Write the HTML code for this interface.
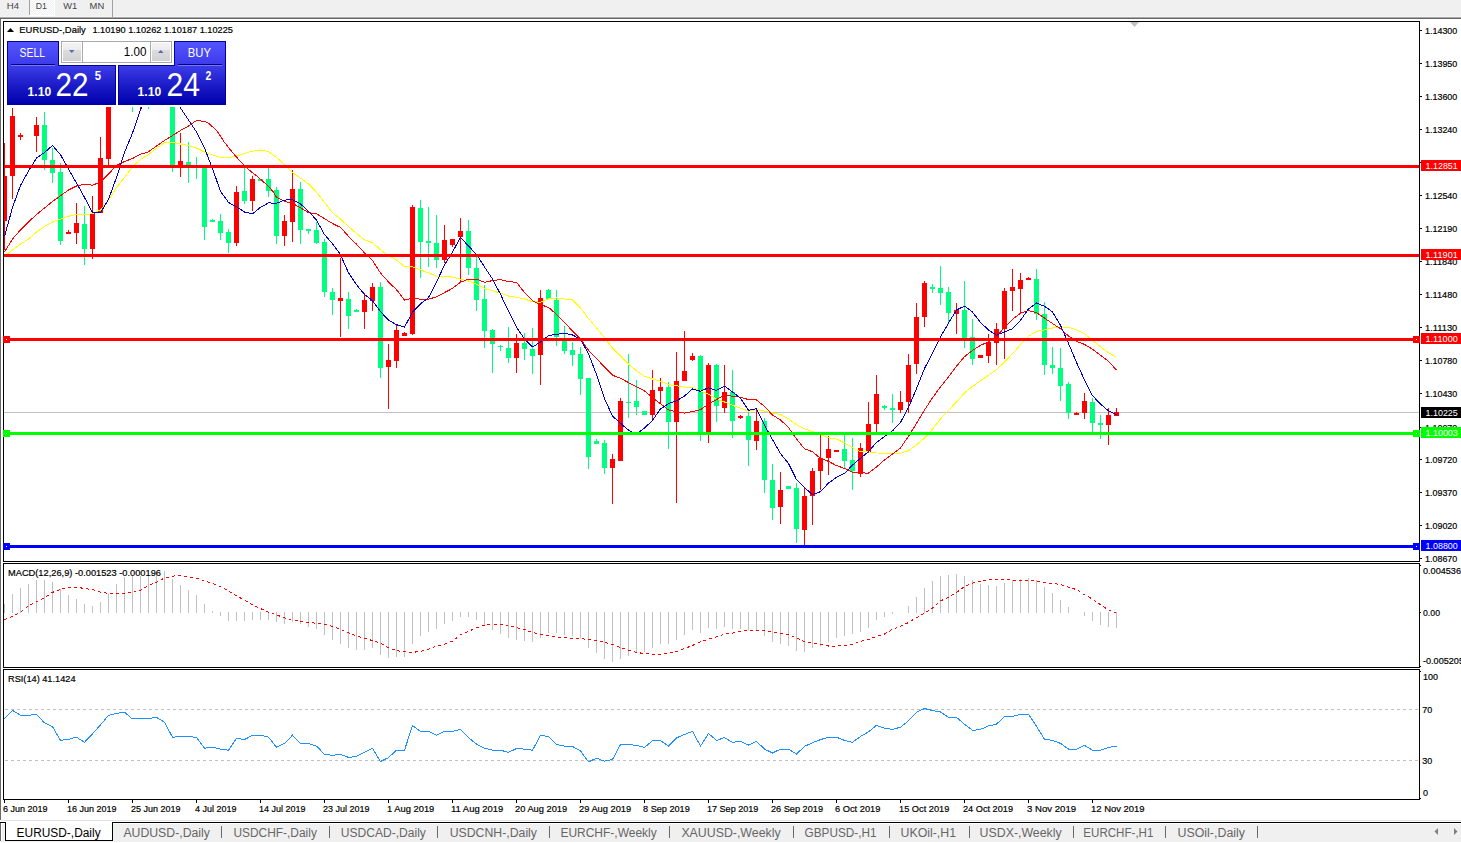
<!DOCTYPE html><html><head><meta charset="utf-8"><title>EURUSD-,Daily</title><style>html,body{margin:0;padding:0;background:#fff;width:1461px;height:843px;overflow:hidden;position:relative}svg text{font-family:"Liberation Sans",sans-serif;white-space:pre}</style></head><body><svg width="1461" height="843" viewBox="0 0 1461 843" font-family="Liberation Sans" style="position:absolute;left:0;top:0">
<defs><clipPath id="cm"><rect x="4" y="22" width="1415" height="539"/></clipPath><clipPath id="cmacd"><rect x="4" y="564" width="1415" height="103"/></clipPath><clipPath id="crsi"><rect x="4" y="670" width="1415" height="129"/></clipPath><linearGradient id="gSell" x1="0" y1="0" x2="0" y2="1"><stop offset="0" stop-color="#5454ff"/><stop offset="1" stop-color="#3a3aea"/></linearGradient><linearGradient id="gPrice" x1="0" y1="0" x2="0" y2="1"><stop offset="0" stop-color="#3c3ce8"/><stop offset="0.5" stop-color="#1c1cc8"/><stop offset="1" stop-color="#0000ae"/></linearGradient><linearGradient id="gBtn" x1="0" y1="0" x2="0" y2="1"><stop offset="0" stop-color="#f3f3f3"/><stop offset="0.36" stop-color="#ececec"/><stop offset="0.4" stop-color="#dcdcdc"/><stop offset="1" stop-color="#d2d2d2"/></linearGradient><pattern id="dith" width="2" height="2" patternUnits="userSpaceOnUse"><rect width="2" height="2" fill="#f0f0f0"/><rect width="1" height="1" fill="#fff"/><rect x="1" y="1" width="1" height="1" fill="#fff"/></pattern></defs>
<g shape-rendering="crispEdges">
<rect x="0" y="0" width="1461" height="17" fill="#f0f0f0"/>
<rect x="0" y="16" width="1461" height="1" fill="#f5f5f5"/>
<rect x="0" y="17" width="1461" height="1" fill="#a8a8a8"/>
<rect x="0" y="18" width="1461" height="1" fill="#696969"/>
<rect x="30" y="0" width="24" height="15" fill="url(#dith)"/>
<rect x="54" y="0" width="1" height="16" fill="#ffffff"/>
<rect x="29" y="15" width="26" height="1" fill="#ffffff"/>
<rect x="29" y="0" width="1" height="15" fill="#a0a0a0"/>
<rect x="112" y="0" width="1" height="17" fill="#a0a0a0"/>
<rect x="0" y="18" width="1" height="802" fill="#696969"/>
<rect x="3" y="21" width="1417" height="1" fill="#000"/>
<rect x="3" y="561" width="1417" height="1" fill="#000"/>
<rect x="3" y="21" width="1" height="541" fill="#000"/>
<rect x="1419" y="21" width="1" height="541" fill="#000"/>
<rect x="3" y="563" width="1417" height="1" fill="#000"/>
<rect x="3" y="667" width="1417" height="1" fill="#000"/>
<rect x="3" y="563" width="1" height="105" fill="#000"/>
<rect x="1419" y="563" width="1" height="105" fill="#000"/>
<rect x="3" y="669" width="1417" height="1" fill="#000"/>
<rect x="3" y="799" width="1417" height="1" fill="#000"/>
<rect x="3" y="669" width="1" height="131" fill="#000"/>
<rect x="1419" y="669" width="1" height="131" fill="#000"/>
</g>
<g clip-path="url(#cm)" shape-rendering="crispEdges">
<rect x="4" y="412" width="1415" height="1" fill="#c0c0c0"/>
<rect x="4" y="143" width="1" height="107" fill="#ff0000"/>
<rect x="2" y="176" width="5" height="45" fill="#ff0000"/>
<rect x="12" y="108" width="1" height="91" fill="#ff0000"/>
<rect x="10" y="116" width="5" height="60" fill="#ff0000"/>
<rect x="20" y="133" width="1" height="7" fill="#ff0000"/>
<rect x="18" y="135" width="5" height="2" fill="#ff0000"/>
<rect x="36" y="117" width="1" height="35" fill="#ff0000"/>
<rect x="34" y="125" width="5" height="11" fill="#ff0000"/>
<rect x="44" y="112" width="1" height="58" fill="#00ff7f"/>
<rect x="42" y="125" width="5" height="35" fill="#00ff7f"/>
<rect x="52" y="148" width="1" height="35" fill="#00ff7f"/>
<rect x="50" y="160" width="5" height="13" fill="#00ff7f"/>
<rect x="60" y="163" width="1" height="82" fill="#00ff7f"/>
<rect x="58" y="172" width="5" height="69" fill="#00ff7f"/>
<rect x="68" y="230" width="1" height="4" fill="#ff0000"/>
<rect x="66" y="232" width="5" height="2" fill="#ff0000"/>
<rect x="76" y="203" width="1" height="41" fill="#ff0000"/>
<rect x="74" y="223" width="5" height="10" fill="#ff0000"/>
<rect x="84" y="206" width="1" height="59" fill="#00ff7f"/>
<rect x="82" y="224" width="5" height="25" fill="#00ff7f"/>
<rect x="92" y="196" width="1" height="63" fill="#ff0000"/>
<rect x="90" y="213" width="5" height="36" fill="#ff0000"/>
<rect x="100" y="137" width="1" height="76" fill="#ff0000"/>
<rect x="98" y="158" width="5" height="55" fill="#ff0000"/>
<rect x="108" y="60" width="1" height="108" fill="#ff0000"/>
<rect x="106" y="80" width="5" height="79" fill="#ff0000"/>
<rect x="172" y="80" width="1" height="92" fill="#00ff7f"/>
<rect x="170" y="90" width="5" height="75" fill="#00ff7f"/>
<rect x="180" y="133" width="1" height="44" fill="#ff0000"/>
<rect x="178" y="161" width="5" height="4" fill="#ff0000"/>
<rect x="188" y="142" width="1" height="41" fill="#00ff7f"/>
<rect x="186" y="162" width="5" height="3" fill="#00ff7f"/>
<rect x="196" y="157" width="1" height="22" fill="#00ff7f"/>
<rect x="194" y="165" width="5" height="1" fill="#00ff7f"/>
<rect x="204" y="167" width="1" height="73" fill="#00ff7f"/>
<rect x="202" y="167" width="5" height="60" fill="#00ff7f"/>
<rect x="212" y="219" width="1" height="3" fill="#00ff7f"/>
<rect x="210" y="220" width="5" height="2" fill="#00ff7f"/>
<rect x="220" y="214" width="1" height="26" fill="#00ff7f"/>
<rect x="218" y="221" width="5" height="12" fill="#00ff7f"/>
<rect x="228" y="229" width="1" height="24" fill="#00ff7f"/>
<rect x="226" y="232" width="5" height="11" fill="#00ff7f"/>
<rect x="236" y="186" width="1" height="60" fill="#ff0000"/>
<rect x="234" y="192" width="5" height="51" fill="#ff0000"/>
<rect x="244" y="165" width="1" height="39" fill="#00ff7f"/>
<rect x="242" y="191" width="5" height="10" fill="#00ff7f"/>
<rect x="252" y="176" width="1" height="35" fill="#ff0000"/>
<rect x="250" y="179" width="5" height="22" fill="#ff0000"/>
<rect x="260" y="179" width="1" height="2" fill="#00ff7f"/>
<rect x="258" y="179" width="5" height="2" fill="#00ff7f"/>
<rect x="268" y="167" width="1" height="30" fill="#00ff7f"/>
<rect x="266" y="179" width="5" height="12" fill="#00ff7f"/>
<rect x="276" y="187" width="1" height="57" fill="#00ff7f"/>
<rect x="274" y="190" width="5" height="46" fill="#00ff7f"/>
<rect x="284" y="215" width="1" height="31" fill="#ff0000"/>
<rect x="282" y="221" width="5" height="15" fill="#ff0000"/>
<rect x="292" y="170" width="1" height="72" fill="#ff0000"/>
<rect x="290" y="189" width="5" height="33" fill="#ff0000"/>
<rect x="300" y="182" width="1" height="62" fill="#00ff7f"/>
<rect x="298" y="189" width="5" height="41" fill="#00ff7f"/>
<rect x="308" y="229" width="1" height="5" fill="#00ff7f"/>
<rect x="306" y="229" width="5" height="2" fill="#00ff7f"/>
<rect x="316" y="222" width="1" height="22" fill="#00ff7f"/>
<rect x="314" y="230" width="5" height="13" fill="#00ff7f"/>
<rect x="324" y="239" width="1" height="58" fill="#00ff7f"/>
<rect x="322" y="242" width="5" height="50" fill="#00ff7f"/>
<rect x="332" y="288" width="1" height="27" fill="#00ff7f"/>
<rect x="330" y="292" width="5" height="8" fill="#00ff7f"/>
<rect x="340" y="258" width="1" height="79" fill="#ff0000"/>
<rect x="338" y="298" width="5" height="3" fill="#ff0000"/>
<rect x="348" y="292" width="1" height="37" fill="#00ff7f"/>
<rect x="346" y="299" width="5" height="17" fill="#00ff7f"/>
<rect x="356" y="309" width="1" height="3" fill="#00ff7f"/>
<rect x="354" y="310" width="5" height="2" fill="#00ff7f"/>
<rect x="364" y="293" width="1" height="36" fill="#ff0000"/>
<rect x="362" y="300" width="5" height="12" fill="#ff0000"/>
<rect x="372" y="283" width="1" height="28" fill="#ff0000"/>
<rect x="370" y="287" width="5" height="14" fill="#ff0000"/>
<rect x="380" y="282" width="1" height="96" fill="#00ff7f"/>
<rect x="378" y="287" width="5" height="81" fill="#00ff7f"/>
<rect x="388" y="344" width="1" height="65" fill="#ff0000"/>
<rect x="386" y="360" width="5" height="7" fill="#ff0000"/>
<rect x="396" y="325" width="1" height="43" fill="#ff0000"/>
<rect x="394" y="330" width="5" height="31" fill="#ff0000"/>
<rect x="404" y="332" width="1" height="4" fill="#ff0000"/>
<rect x="402" y="333" width="5" height="3" fill="#ff0000"/>
<rect x="412" y="205" width="1" height="130" fill="#ff0000"/>
<rect x="410" y="207" width="5" height="127" fill="#ff0000"/>
<rect x="420" y="200" width="1" height="78" fill="#00ff7f"/>
<rect x="418" y="208" width="5" height="34" fill="#00ff7f"/>
<rect x="428" y="207" width="1" height="60" fill="#00ff7f"/>
<rect x="426" y="241" width="5" height="2" fill="#00ff7f"/>
<rect x="436" y="215" width="1" height="53" fill="#00ff7f"/>
<rect x="434" y="243" width="5" height="17" fill="#00ff7f"/>
<rect x="444" y="225" width="1" height="38" fill="#ff0000"/>
<rect x="442" y="240" width="5" height="20" fill="#ff0000"/>
<rect x="452" y="239" width="1" height="8" fill="#ff0000"/>
<rect x="450" y="239" width="5" height="6" fill="#ff0000"/>
<rect x="460" y="218" width="1" height="65" fill="#ff0000"/>
<rect x="458" y="231" width="5" height="6" fill="#ff0000"/>
<rect x="468" y="220" width="1" height="55" fill="#00ff7f"/>
<rect x="466" y="231" width="5" height="37" fill="#00ff7f"/>
<rect x="476" y="255" width="1" height="56" fill="#00ff7f"/>
<rect x="474" y="268" width="5" height="32" fill="#00ff7f"/>
<rect x="484" y="285" width="1" height="63" fill="#00ff7f"/>
<rect x="482" y="299" width="5" height="32" fill="#00ff7f"/>
<rect x="492" y="329" width="1" height="44" fill="#00ff7f"/>
<rect x="490" y="330" width="5" height="14" fill="#00ff7f"/>
<rect x="500" y="345" width="1" height="6" fill="#00ff7f"/>
<rect x="498" y="346" width="5" height="1" fill="#00ff7f"/>
<rect x="508" y="327" width="1" height="36" fill="#00ff7f"/>
<rect x="506" y="348" width="5" height="10" fill="#00ff7f"/>
<rect x="516" y="334" width="1" height="39" fill="#ff0000"/>
<rect x="514" y="343" width="5" height="15" fill="#ff0000"/>
<rect x="524" y="333" width="1" height="27" fill="#00ff7f"/>
<rect x="522" y="343" width="5" height="6" fill="#00ff7f"/>
<rect x="532" y="328" width="1" height="46" fill="#00ff7f"/>
<rect x="530" y="349" width="5" height="7" fill="#00ff7f"/>
<rect x="540" y="290" width="1" height="95" fill="#ff0000"/>
<rect x="538" y="298" width="5" height="57" fill="#ff0000"/>
<rect x="548" y="289" width="1" height="10" fill="#00ff7f"/>
<rect x="546" y="290" width="5" height="9" fill="#00ff7f"/>
<rect x="556" y="290" width="1" height="56" fill="#00ff7f"/>
<rect x="554" y="300" width="5" height="37" fill="#00ff7f"/>
<rect x="564" y="326" width="1" height="28" fill="#00ff7f"/>
<rect x="562" y="340" width="5" height="11" fill="#00ff7f"/>
<rect x="572" y="342" width="1" height="24" fill="#00ff7f"/>
<rect x="570" y="350" width="5" height="5" fill="#00ff7f"/>
<rect x="580" y="347" width="1" height="48" fill="#00ff7f"/>
<rect x="578" y="354" width="5" height="25" fill="#00ff7f"/>
<rect x="588" y="378" width="1" height="91" fill="#00ff7f"/>
<rect x="586" y="378" width="5" height="79" fill="#00ff7f"/>
<rect x="596" y="439" width="1" height="5" fill="#00ff7f"/>
<rect x="594" y="441" width="5" height="3" fill="#00ff7f"/>
<rect x="604" y="440" width="1" height="34" fill="#00ff7f"/>
<rect x="602" y="443" width="5" height="25" fill="#00ff7f"/>
<rect x="612" y="454" width="1" height="50" fill="#ff0000"/>
<rect x="610" y="459" width="5" height="9" fill="#ff0000"/>
<rect x="620" y="398" width="1" height="63" fill="#ff0000"/>
<rect x="618" y="401" width="5" height="60" fill="#ff0000"/>
<rect x="628" y="354" width="1" height="64" fill="#00ff7f"/>
<rect x="626" y="402" width="5" height="1" fill="#00ff7f"/>
<rect x="636" y="380" width="1" height="35" fill="#00ff7f"/>
<rect x="634" y="401" width="5" height="6" fill="#00ff7f"/>
<rect x="644" y="411" width="1" height="4" fill="#00ff7f"/>
<rect x="642" y="411" width="5" height="4" fill="#00ff7f"/>
<rect x="652" y="370" width="1" height="49" fill="#ff0000"/>
<rect x="650" y="390" width="5" height="25" fill="#ff0000"/>
<rect x="660" y="378" width="1" height="26" fill="#ff0000"/>
<rect x="658" y="387" width="5" height="4" fill="#ff0000"/>
<rect x="668" y="382" width="1" height="67" fill="#00ff7f"/>
<rect x="666" y="387" width="5" height="35" fill="#00ff7f"/>
<rect x="676" y="352" width="1" height="151" fill="#ff0000"/>
<rect x="674" y="381" width="5" height="41" fill="#ff0000"/>
<rect x="684" y="331" width="1" height="50" fill="#ff0000"/>
<rect x="682" y="371" width="5" height="10" fill="#ff0000"/>
<rect x="692" y="353" width="1" height="8" fill="#ff0000"/>
<rect x="690" y="356" width="5" height="4" fill="#ff0000"/>
<rect x="700" y="355" width="1" height="86" fill="#00ff7f"/>
<rect x="698" y="356" width="5" height="76" fill="#00ff7f"/>
<rect x="708" y="363" width="1" height="80" fill="#ff0000"/>
<rect x="706" y="365" width="5" height="67" fill="#ff0000"/>
<rect x="716" y="364" width="1" height="58" fill="#00ff7f"/>
<rect x="714" y="365" width="5" height="41" fill="#00ff7f"/>
<rect x="724" y="365" width="1" height="48" fill="#ff0000"/>
<rect x="722" y="392" width="5" height="16" fill="#ff0000"/>
<rect x="732" y="370" width="1" height="68" fill="#00ff7f"/>
<rect x="730" y="392" width="5" height="29" fill="#00ff7f"/>
<rect x="740" y="415" width="1" height="4" fill="#ff0000"/>
<rect x="738" y="416" width="5" height="2" fill="#ff0000"/>
<rect x="748" y="412" width="1" height="54" fill="#00ff7f"/>
<rect x="746" y="416" width="5" height="24" fill="#00ff7f"/>
<rect x="756" y="410" width="1" height="40" fill="#ff0000"/>
<rect x="754" y="421" width="5" height="20" fill="#ff0000"/>
<rect x="764" y="418" width="1" height="75" fill="#00ff7f"/>
<rect x="762" y="421" width="5" height="59" fill="#00ff7f"/>
<rect x="772" y="464" width="1" height="56" fill="#00ff7f"/>
<rect x="770" y="480" width="5" height="28" fill="#00ff7f"/>
<rect x="780" y="472" width="1" height="52" fill="#ff0000"/>
<rect x="778" y="490" width="5" height="17" fill="#ff0000"/>
<rect x="788" y="486" width="1" height="3" fill="#00ff7f"/>
<rect x="786" y="486" width="5" height="3" fill="#00ff7f"/>
<rect x="796" y="483" width="1" height="60" fill="#00ff7f"/>
<rect x="794" y="488" width="5" height="41" fill="#00ff7f"/>
<rect x="804" y="488" width="1" height="57" fill="#ff0000"/>
<rect x="802" y="496" width="5" height="34" fill="#ff0000"/>
<rect x="812" y="468" width="1" height="57" fill="#ff0000"/>
<rect x="810" y="471" width="5" height="25" fill="#ff0000"/>
<rect x="820" y="434" width="1" height="56" fill="#ff0000"/>
<rect x="818" y="458" width="5" height="13" fill="#ff0000"/>
<rect x="828" y="436" width="1" height="39" fill="#ff0000"/>
<rect x="826" y="449" width="5" height="9" fill="#ff0000"/>
<rect x="836" y="450" width="1" height="2" fill="#ff0000"/>
<rect x="834" y="450" width="5" height="2" fill="#ff0000"/>
<rect x="844" y="434" width="1" height="35" fill="#00ff7f"/>
<rect x="842" y="449" width="5" height="12" fill="#00ff7f"/>
<rect x="852" y="438" width="1" height="52" fill="#00ff7f"/>
<rect x="850" y="460" width="5" height="11" fill="#00ff7f"/>
<rect x="860" y="443" width="1" height="34" fill="#ff0000"/>
<rect x="858" y="448" width="5" height="26" fill="#ff0000"/>
<rect x="868" y="402" width="1" height="51" fill="#ff0000"/>
<rect x="866" y="424" width="5" height="28" fill="#ff0000"/>
<rect x="876" y="375" width="1" height="57" fill="#ff0000"/>
<rect x="874" y="394" width="5" height="30" fill="#ff0000"/>
<rect x="884" y="405" width="1" height="5" fill="#00ff7f"/>
<rect x="882" y="406" width="5" height="2" fill="#00ff7f"/>
<rect x="892" y="394" width="1" height="29" fill="#00ff7f"/>
<rect x="890" y="408" width="5" height="2" fill="#00ff7f"/>
<rect x="900" y="391" width="1" height="22" fill="#ff0000"/>
<rect x="898" y="402" width="5" height="8" fill="#ff0000"/>
<rect x="908" y="354" width="1" height="59" fill="#ff0000"/>
<rect x="906" y="365" width="5" height="37" fill="#ff0000"/>
<rect x="916" y="303" width="1" height="71" fill="#ff0000"/>
<rect x="914" y="317" width="5" height="47" fill="#ff0000"/>
<rect x="924" y="281" width="1" height="46" fill="#ff0000"/>
<rect x="922" y="283" width="5" height="34" fill="#ff0000"/>
<rect x="932" y="284" width="1" height="9" fill="#00ff7f"/>
<rect x="930" y="287" width="5" height="2" fill="#00ff7f"/>
<rect x="940" y="266" width="1" height="39" fill="#00ff7f"/>
<rect x="938" y="288" width="5" height="5" fill="#00ff7f"/>
<rect x="948" y="287" width="1" height="36" fill="#00ff7f"/>
<rect x="946" y="292" width="5" height="21" fill="#00ff7f"/>
<rect x="956" y="303" width="1" height="31" fill="#ff0000"/>
<rect x="954" y="310" width="5" height="4" fill="#ff0000"/>
<rect x="964" y="281" width="1" height="67" fill="#00ff7f"/>
<rect x="962" y="310" width="5" height="28" fill="#00ff7f"/>
<rect x="972" y="319" width="1" height="46" fill="#00ff7f"/>
<rect x="970" y="337" width="5" height="22" fill="#00ff7f"/>
<rect x="980" y="355" width="1" height="3" fill="#ff0000"/>
<rect x="978" y="355" width="5" height="3" fill="#ff0000"/>
<rect x="988" y="334" width="1" height="29" fill="#ff0000"/>
<rect x="986" y="342" width="5" height="14" fill="#ff0000"/>
<rect x="996" y="323" width="1" height="42" fill="#ff0000"/>
<rect x="994" y="329" width="5" height="14" fill="#ff0000"/>
<rect x="1004" y="288" width="1" height="71" fill="#ff0000"/>
<rect x="1002" y="291" width="5" height="38" fill="#ff0000"/>
<rect x="1012" y="269" width="1" height="42" fill="#ff0000"/>
<rect x="1010" y="287" width="5" height="4" fill="#ff0000"/>
<rect x="1020" y="273" width="1" height="40" fill="#ff0000"/>
<rect x="1018" y="280" width="5" height="9" fill="#ff0000"/>
<rect x="1028" y="277" width="1" height="3" fill="#ff0000"/>
<rect x="1026" y="278" width="5" height="2" fill="#ff0000"/>
<rect x="1036" y="269" width="1" height="51" fill="#00ff7f"/>
<rect x="1034" y="279" width="5" height="35" fill="#00ff7f"/>
<rect x="1044" y="302" width="1" height="73" fill="#00ff7f"/>
<rect x="1042" y="314" width="5" height="51" fill="#00ff7f"/>
<rect x="1052" y="347" width="1" height="27" fill="#00ff7f"/>
<rect x="1050" y="365" width="5" height="3" fill="#00ff7f"/>
<rect x="1060" y="348" width="1" height="53" fill="#00ff7f"/>
<rect x="1058" y="368" width="5" height="18" fill="#00ff7f"/>
<rect x="1068" y="382" width="1" height="37" fill="#00ff7f"/>
<rect x="1066" y="384" width="5" height="29" fill="#00ff7f"/>
<rect x="1076" y="412" width="1" height="3" fill="#ff0000"/>
<rect x="1074" y="413" width="5" height="2" fill="#ff0000"/>
<rect x="1084" y="393" width="1" height="26" fill="#ff0000"/>
<rect x="1082" y="401" width="5" height="12" fill="#ff0000"/>
<rect x="1092" y="398" width="1" height="34" fill="#00ff7f"/>
<rect x="1090" y="402" width="5" height="21" fill="#00ff7f"/>
<rect x="1100" y="415" width="1" height="24" fill="#00ff7f"/>
<rect x="1098" y="423" width="5" height="2" fill="#00ff7f"/>
<rect x="1108" y="408" width="1" height="37" fill="#ff0000"/>
<rect x="1106" y="415" width="5" height="10" fill="#ff0000"/>
<rect x="1116" y="408" width="1" height="8" fill="#ff0000"/>
<rect x="1114" y="412" width="5" height="4" fill="#ff0000"/>
<rect x="132" y="60" width="1" height="52" fill="#00ff7f"/>
<rect x="140" y="60" width="1" height="48" fill="#ff0000"/>
<rect x="148" y="60" width="1" height="49" fill="#00ff7f"/>
</g>
<g clip-path="url(#cm)" shape-rendering="crispEdges">
<polyline points="4.5,256.0 12.5,250.0 20.5,244.0 28.5,239.0 36.5,232.0 44.5,226.5 52.5,222.0 60.5,219.2 68.5,216.2 76.5,214.6 84.5,215.0 92.5,213.5 100.5,210.0 108.5,200.0 116.5,187.5 124.5,177.5 132.5,166.8 140.5,159.5 148.5,154.5 156.5,148.3 164.5,142.7 172.5,142.4 180.5,144.0 188.5,145.4 196.5,148.0 204.5,152.0 208.5,153.5 220.5,157.5 230.5,157.5 240.5,154.9 250.5,151.5 260.5,150.0 268.5,151.5 276.5,157.5 284.5,164.6 292.5,172.7 300.5,178.1 308.5,184.1 316.5,192.2 324.5,202.3 332.5,212.8 340.5,219.1 348.5,226.5 356.5,233.5 364.5,239.9 372.5,242.7 380.5,249.7 388.5,255.7 396.5,259.9 404.5,266.6 412.5,266.9 420.5,269.9 428.5,272.8 436.5,276.1 444.5,276.3 452.5,277.1 460.5,279.1 468.5,281.0 476.5,284.2 484.5,288.4 492.5,290.9 500.5,293.1 508.5,296.0 516.5,297.3 524.5,299.0 532.5,301.7 540.5,302.2 548.5,299.0 556.5,297.9 564.5,298.9 572.5,299.9 580.5,308.1 588.5,318.3 596.5,327.9 604.5,337.8 612.5,348.2 620.5,356.0 628.5,364.1 636.5,370.8 644.5,376.2 652.5,379.0 660.5,381.1 668.5,384.7 676.5,385.8 684.5,387.1 692.5,387.4 700.5,391.0 708.5,394.2 716.5,399.3 724.5,402.0 732.5,405.3 740.5,408.2 748.5,411.1 756.5,409.4 764.5,411.1 772.5,413.0 780.5,414.5 788.5,418.7 796.5,424.7 804.5,428.9 812.5,431.6 820.5,434.8 828.5,437.8 836.5,439.1 844.5,442.9 852.5,447.7 860.5,452.0 868.5,451.7 876.5,453.0 884.5,453.1 892.5,454.0 900.5,453.1 908.5,450.7 916.5,444.8 924.5,438.2 932.5,429.1 940.5,418.9 948.5,410.5 956.5,402.0 964.5,392.9 972.5,386.3 980.5,380.8 988.5,375.3 996.5,369.6 1004.5,362.0 1012.5,353.7 1020.5,344.6 1028.5,336.5 1036.5,331.3 1044.5,329.9 1052.5,328.0 1060.5,326.9 1068.5,327.4 1076.5,329.7 1084.5,333.7 1092.5,340.3 1100.5,346.8 1108.5,352.6 1116.5,357.3" fill="none" stroke="#ffff00" stroke-width="1"/>
<polyline points="4.5,252.0 12.5,239.0 20.5,230.0 28.5,222.0 36.5,214.5 44.5,208.0 52.5,201.5 60.5,195.8 68.5,190.0 76.5,186.0 84.5,184.3 92.5,185.2 100.5,182.0 108.5,174.0 116.5,165.5 124.5,161.5 132.5,158.5 140.5,154.3 148.5,151.8 156.5,146.0 164.5,140.5 172.5,135.5 180.5,130.5 188.5,126.0 196.5,120.5 204.5,121.5 208.5,123.2 216.5,130.3 224.5,142.4 232.5,152.5 240.5,161.6 248.5,169.6 256.5,175.7 264.5,182.7 272.5,190.8 276.5,197.3 284.5,201.3 292.5,203.3 300.5,207.9 308.5,212.6 316.5,213.7 324.5,218.7 332.5,223.5 340.5,227.4 348.5,236.3 356.5,244.2 364.5,252.9 372.5,260.4 380.5,273.1 388.5,281.9 396.5,289.7 404.5,300.0 412.5,298.4 420.5,299.1 428.5,299.1 436.5,296.9 444.5,292.6 452.5,288.4 460.5,282.3 468.5,279.1 476.5,279.1 484.5,282.3 492.5,280.6 500.5,279.6 508.5,281.6 516.5,282.4 524.5,292.5 532.5,300.6 540.5,304.6 548.5,307.4 556.5,314.3 564.5,322.3 572.5,331.1 580.5,339.1 588.5,350.3 596.5,358.4 604.5,367.2 612.5,375.2 620.5,378.3 628.5,382.6 636.5,386.7 644.5,390.9 652.5,397.5 660.5,403.8 668.5,409.9 676.5,412.0 684.5,413.1 692.5,411.5 700.5,409.7 708.5,404.1 716.5,399.6 724.5,394.9 732.5,396.3 740.5,397.2 748.5,399.6 756.5,400.0 764.5,406.4 772.5,415.1 780.5,419.9 788.5,427.6 796.5,438.9 804.5,448.9 812.5,451.7 820.5,458.4 828.5,461.4 836.5,465.6 844.5,468.4 852.5,472.4 860.5,472.9 868.5,473.1 876.5,467.0 884.5,459.9 892.5,454.1 900.5,447.9 908.5,436.2 916.5,423.4 924.5,410.0 932.5,397.9 940.5,386.8 948.5,377.0 956.5,366.2 964.5,356.7 972.5,350.4 980.5,345.4 988.5,341.7 996.5,336.1 1004.5,327.6 1012.5,319.4 1020.5,313.3 1028.5,310.5 1036.5,312.7 1044.5,318.1 1052.5,323.5 1060.5,328.7 1068.5,336.1 1076.5,341.4 1084.5,344.4 1092.5,349.3 1100.5,355.2 1108.5,361.4 1116.5,370.0" fill="none" stroke="#ff0000" stroke-width="1"/>
<polyline points="4.5,236.5 12.5,207.5 20.5,185.5 28.5,171.0 36.5,158.0 44.5,152.5 52.5,145.5 60.5,154.7 68.5,169.0 76.5,183.0 84.5,197.5 92.5,212.5 100.5,212.5 108.5,199.5 116.5,177.5 124.5,152.5 132.5,133.0 140.5,110.0 148.5,88.0 156.5,80.0 164.5,82.0 172.5,94.0 180.5,108.0 188.5,120.0 196.5,132.0 204.5,148.0 212.5,168.6 220.5,191.3 228.5,202.4 236.5,206.9 244.5,212.0 252.5,213.9 260.5,207.3 268.5,202.9 276.5,203.3 284.5,200.1 292.5,199.7 300.5,203.9 308.5,211.3 316.5,220.1 324.5,234.6 332.5,243.7 340.5,254.7 348.5,272.9 356.5,284.6 364.5,294.4 372.5,300.7 380.5,311.6 388.5,320.1 396.5,324.7 404.5,327.1 412.5,312.1 420.5,303.9 428.5,297.6 436.5,282.1 444.5,265.0 452.5,252.0 460.5,237.4 468.5,246.1 476.5,254.4 484.5,267.0 492.5,279.0 500.5,294.3 508.5,311.3 516.5,327.3 524.5,338.9 532.5,346.9 540.5,342.1 548.5,335.7 556.5,334.3 564.5,333.3 572.5,335.0 580.5,339.3 588.5,353.7 596.5,374.6 604.5,398.7 612.5,416.1 620.5,423.3 628.5,430.1 636.5,434.1 644.5,428.1 652.5,420.4 660.5,408.9 668.5,403.6 676.5,400.7 684.5,396.1 692.5,388.9 700.5,391.3 708.5,387.7 716.5,390.4 724.5,386.1 732.5,391.9 740.5,398.3 748.5,410.3 756.5,408.7 764.5,425.1 772.5,439.7 780.5,453.7 788.5,463.4 796.5,479.6 804.5,487.6 812.5,494.7 820.5,491.6 828.5,483.1 836.5,477.4 844.5,473.4 852.5,465.1 860.5,458.3 868.5,451.6 876.5,442.4 884.5,436.6 892.5,430.9 900.5,422.4 908.5,407.3 916.5,388.6 924.5,368.4 932.5,353.4 940.5,337.0 948.5,323.1 956.5,310.0 964.5,306.1 972.5,312.1 980.5,322.4 988.5,330.0 996.5,335.1 1004.5,332.0 1012.5,328.7 1020.5,320.4 1028.5,308.9 1036.5,303.0 1044.5,306.3 1052.5,311.9 1060.5,325.4 1068.5,343.4 1076.5,362.4 1084.5,380.0 1092.5,395.6 1100.5,404.1 1108.5,410.9 1116.5,414.6" fill="none" stroke="#0000cd" stroke-width="1"/>
</g>
<g shape-rendering="crispEdges">
<rect x="4" y="165" width="1415" height="3" fill="#ff0000"/>
<rect x="4" y="254" width="1415" height="3" fill="#ff0000"/>
<rect x="4" y="338" width="1415" height="3" fill="#ff0000"/>
<rect x="3" y="336" width="7" height="7" fill="#ff0000"/>
<rect x="6" y="339" width="1" height="1" fill="#fff"/>
<rect x="1413" y="336" width="7" height="7" fill="#ff0000"/>
<rect x="1416" y="339" width="1" height="1" fill="#fff"/>
<rect x="4" y="432" width="1415" height="3" fill="#00ff00"/>
<rect x="3" y="430" width="7" height="7" fill="#00ff00"/>
<rect x="6" y="433" width="1" height="1" fill="#fff"/>
<rect x="1413" y="430" width="7" height="7" fill="#00ff00"/>
<rect x="1416" y="433" width="1" height="1" fill="#fff"/>
<rect x="4" y="545" width="1415" height="3" fill="#0000ff"/>
<rect x="3" y="543" width="7" height="7" fill="#0000ff"/>
<rect x="6" y="546" width="1" height="1" fill="#fff"/>
<rect x="1413" y="543" width="7" height="7" fill="#0000ff"/>
<rect x="1416" y="546" width="1" height="1" fill="#fff"/>
</g>
<g shape-rendering="crispEdges">
<rect x="1420" y="30" width="2" height="1" fill="#000"/>
<rect x="1420" y="63" width="2" height="1" fill="#000"/>
<rect x="1420" y="96" width="2" height="1" fill="#000"/>
<rect x="1420" y="129" width="2" height="1" fill="#000"/>
<rect x="1420" y="162" width="2" height="1" fill="#000"/>
<rect x="1420" y="195" width="2" height="1" fill="#000"/>
<rect x="1420" y="228" width="2" height="1" fill="#000"/>
<rect x="1420" y="261" width="2" height="1" fill="#000"/>
<rect x="1420" y="294" width="2" height="1" fill="#000"/>
<rect x="1420" y="327" width="2" height="1" fill="#000"/>
<rect x="1420" y="360" width="2" height="1" fill="#000"/>
<rect x="1420" y="393" width="2" height="1" fill="#000"/>
<rect x="1420" y="427" width="2" height="1" fill="#000"/>
<rect x="1420" y="459" width="2" height="1" fill="#000"/>
<rect x="1420" y="492" width="2" height="1" fill="#000"/>
<rect x="1420" y="525" width="2" height="1" fill="#000"/>
<rect x="1420" y="558" width="2" height="1" fill="#000"/>
</g>
<text x="1425" y="34" fill="#000" font-size="9.6" textLength="32.3" lengthAdjust="spacingAndGlyphs" stroke="#000" stroke-width="0.2">1.14300</text>
<text x="1425" y="67" fill="#000" font-size="9.6" textLength="32.3" lengthAdjust="spacingAndGlyphs" stroke="#000" stroke-width="0.2">1.13950</text>
<text x="1425" y="100" fill="#000" font-size="9.6" textLength="32.3" lengthAdjust="spacingAndGlyphs" stroke="#000" stroke-width="0.2">1.13600</text>
<text x="1425" y="133" fill="#000" font-size="9.6" textLength="32.3" lengthAdjust="spacingAndGlyphs" stroke="#000" stroke-width="0.2">1.13240</text>
<text x="1425" y="166" fill="#000" font-size="9.6" textLength="32.3" lengthAdjust="spacingAndGlyphs" stroke="#000" stroke-width="0.2">1.12890</text>
<text x="1425" y="199" fill="#000" font-size="9.6" textLength="32.3" lengthAdjust="spacingAndGlyphs" stroke="#000" stroke-width="0.2">1.12540</text>
<text x="1425" y="232" fill="#000" font-size="9.6" textLength="32.3" lengthAdjust="spacingAndGlyphs" stroke="#000" stroke-width="0.2">1.12190</text>
<text x="1425" y="265" fill="#000" font-size="9.6" textLength="32.3" lengthAdjust="spacingAndGlyphs" stroke="#000" stroke-width="0.2">1.11840</text>
<text x="1425" y="298" fill="#000" font-size="9.6" textLength="32.3" lengthAdjust="spacingAndGlyphs" stroke="#000" stroke-width="0.2">1.11480</text>
<text x="1425" y="331" fill="#000" font-size="9.6" textLength="32.3" lengthAdjust="spacingAndGlyphs" stroke="#000" stroke-width="0.2">1.11130</text>
<text x="1425" y="364" fill="#000" font-size="9.6" textLength="32.3" lengthAdjust="spacingAndGlyphs" stroke="#000" stroke-width="0.2">1.10780</text>
<text x="1425" y="397" fill="#000" font-size="9.6" textLength="32.3" lengthAdjust="spacingAndGlyphs" stroke="#000" stroke-width="0.2">1.10430</text>
<text x="1425" y="431" fill="#000" font-size="9.6" textLength="32.3" lengthAdjust="spacingAndGlyphs" stroke="#000" stroke-width="0.2">1.10070</text>
<text x="1425" y="463" fill="#000" font-size="9.6" textLength="32.3" lengthAdjust="spacingAndGlyphs" stroke="#000" stroke-width="0.2">1.09720</text>
<text x="1425" y="496" fill="#000" font-size="9.6" textLength="32.3" lengthAdjust="spacingAndGlyphs" stroke="#000" stroke-width="0.2">1.09370</text>
<text x="1425" y="529" fill="#000" font-size="9.6" textLength="32.3" lengthAdjust="spacingAndGlyphs" stroke="#000" stroke-width="0.2">1.09020</text>
<text x="1425" y="562" fill="#000" font-size="9.6" textLength="32.3" lengthAdjust="spacingAndGlyphs" stroke="#000" stroke-width="0.2">1.08670</text>
<g shape-rendering="crispEdges">
<rect x="1421" y="160" width="40" height="11" fill="#ff0000"/>
<rect x="1421" y="249" width="40" height="11" fill="#ff0000"/>
<rect x="1421" y="333" width="40" height="11" fill="#ff0000"/>
<rect x="1421" y="407" width="40" height="11" fill="#000"/>
<rect x="1421" y="427" width="40" height="11" fill="#00ff00"/>
<rect x="1421" y="540" width="40" height="11" fill="#0000ff"/>
</g>
<text x="1425.5" y="169" fill="#fff" font-size="9.6" textLength="32.3" lengthAdjust="spacingAndGlyphs">1.12851</text>
<text x="1425.5" y="258" fill="#fff" font-size="9.6" textLength="32.3" lengthAdjust="spacingAndGlyphs">1.11901</text>
<text x="1425.5" y="342" fill="#fff" font-size="9.6" textLength="32.3" lengthAdjust="spacingAndGlyphs">1.11000</text>
<text x="1425.5" y="416" fill="#fff" font-size="9.6" textLength="32.3" lengthAdjust="spacingAndGlyphs">1.10225</text>
<text x="1425.5" y="436" fill="#fff" font-size="9.6" textLength="32.3" lengthAdjust="spacingAndGlyphs">1.10003</text>
<text x="1425.5" y="549" fill="#fff" font-size="9.6" textLength="32.3" lengthAdjust="spacingAndGlyphs">1.08800</text>
<polygon points="1130,22 1139,22 1134.5,27" fill="#c0c0c0"/>
<g clip-path="url(#cmacd)" shape-rendering="crispEdges">
<rect x="4" y="604" width="1" height="9" fill="#c0c0c0"/>
<rect x="12" y="594" width="1" height="19" fill="#c0c0c0"/>
<rect x="20" y="588" width="1" height="25" fill="#c0c0c0"/>
<rect x="28" y="584" width="1" height="29" fill="#c0c0c0"/>
<rect x="36" y="580" width="1" height="33" fill="#c0c0c0"/>
<rect x="44" y="580" width="1" height="33" fill="#c0c0c0"/>
<rect x="52" y="582" width="1" height="31" fill="#c0c0c0"/>
<rect x="60" y="589" width="1" height="24" fill="#c0c0c0"/>
<rect x="68" y="595" width="1" height="18" fill="#c0c0c0"/>
<rect x="76" y="599" width="1" height="14" fill="#c0c0c0"/>
<rect x="84" y="604" width="1" height="9" fill="#c0c0c0"/>
<rect x="92" y="606" width="1" height="7" fill="#c0c0c0"/>
<rect x="100" y="602" width="1" height="11" fill="#c0c0c0"/>
<rect x="108" y="594" width="1" height="19" fill="#c0c0c0"/>
<rect x="116" y="584" width="1" height="29" fill="#c0c0c0"/>
<rect x="124" y="577" width="1" height="36" fill="#c0c0c0"/>
<rect x="132" y="575" width="1" height="38" fill="#c0c0c0"/>
<rect x="140" y="576" width="1" height="37" fill="#c0c0c0"/>
<rect x="148" y="575" width="1" height="38" fill="#c0c0c0"/>
<rect x="156" y="573" width="1" height="40" fill="#c0c0c0"/>
<rect x="164" y="571" width="1" height="42" fill="#c0c0c0"/>
<rect x="172" y="579" width="1" height="34" fill="#c0c0c0"/>
<rect x="180" y="585" width="1" height="28" fill="#c0c0c0"/>
<rect x="188" y="590" width="1" height="23" fill="#c0c0c0"/>
<rect x="196" y="595" width="1" height="18" fill="#c0c0c0"/>
<rect x="204" y="604" width="1" height="9" fill="#c0c0c0"/>
<rect x="212" y="611" width="1" height="2" fill="#c0c0c0"/>
<rect x="220" y="612" width="1" height="4" fill="#c0c0c0"/>
<rect x="228" y="612" width="1" height="9" fill="#c0c0c0"/>
<rect x="236" y="612" width="1" height="9" fill="#c0c0c0"/>
<rect x="244" y="612" width="1" height="9" fill="#c0c0c0"/>
<rect x="252" y="612" width="1" height="8" fill="#c0c0c0"/>
<rect x="260" y="612" width="1" height="8" fill="#c0c0c0"/>
<rect x="268" y="612" width="1" height="8" fill="#c0c0c0"/>
<rect x="276" y="612" width="1" height="10" fill="#c0c0c0"/>
<rect x="284" y="612" width="1" height="12" fill="#c0c0c0"/>
<rect x="292" y="612" width="1" height="10" fill="#c0c0c0"/>
<rect x="300" y="612" width="1" height="12" fill="#c0c0c0"/>
<rect x="308" y="612" width="1" height="15" fill="#c0c0c0"/>
<rect x="316" y="612" width="1" height="17" fill="#c0c0c0"/>
<rect x="324" y="612" width="1" height="23" fill="#c0c0c0"/>
<rect x="332" y="612" width="1" height="28" fill="#c0c0c0"/>
<rect x="340" y="612" width="1" height="32" fill="#c0c0c0"/>
<rect x="348" y="612" width="1" height="36" fill="#c0c0c0"/>
<rect x="356" y="612" width="1" height="38" fill="#c0c0c0"/>
<rect x="364" y="612" width="1" height="38" fill="#c0c0c0"/>
<rect x="372" y="612" width="1" height="36" fill="#c0c0c0"/>
<rect x="380" y="612" width="1" height="43" fill="#c0c0c0"/>
<rect x="388" y="612" width="1" height="46" fill="#c0c0c0"/>
<rect x="396" y="612" width="1" height="45" fill="#c0c0c0"/>
<rect x="404" y="612" width="1" height="45" fill="#c0c0c0"/>
<rect x="412" y="612" width="1" height="32" fill="#c0c0c0"/>
<rect x="420" y="612" width="1" height="24" fill="#c0c0c0"/>
<rect x="428" y="612" width="1" height="20" fill="#c0c0c0"/>
<rect x="436" y="612" width="1" height="17" fill="#c0c0c0"/>
<rect x="444" y="612" width="1" height="12" fill="#c0c0c0"/>
<rect x="452" y="612" width="1" height="9" fill="#c0c0c0"/>
<rect x="460" y="612" width="1" height="5" fill="#c0c0c0"/>
<rect x="468" y="612" width="1" height="5" fill="#c0c0c0"/>
<rect x="476" y="612" width="1" height="8" fill="#c0c0c0"/>
<rect x="484" y="612" width="1" height="13" fill="#c0c0c0"/>
<rect x="492" y="612" width="1" height="18" fill="#c0c0c0"/>
<rect x="500" y="612" width="1" height="22" fill="#c0c0c0"/>
<rect x="508" y="612" width="1" height="26" fill="#c0c0c0"/>
<rect x="516" y="612" width="1" height="28" fill="#c0c0c0"/>
<rect x="524" y="612" width="1" height="29" fill="#c0c0c0"/>
<rect x="532" y="612" width="1" height="30" fill="#c0c0c0"/>
<rect x="540" y="612" width="1" height="26" fill="#c0c0c0"/>
<rect x="548" y="612" width="1" height="21" fill="#c0c0c0"/>
<rect x="556" y="612" width="1" height="21" fill="#c0c0c0"/>
<rect x="564" y="612" width="1" height="23" fill="#c0c0c0"/>
<rect x="572" y="612" width="1" height="24" fill="#c0c0c0"/>
<rect x="580" y="612" width="1" height="26" fill="#c0c0c0"/>
<rect x="588" y="612" width="1" height="36" fill="#c0c0c0"/>
<rect x="596" y="612" width="1" height="41" fill="#c0c0c0"/>
<rect x="604" y="612" width="1" height="47" fill="#c0c0c0"/>
<rect x="612" y="612" width="1" height="50" fill="#c0c0c0"/>
<rect x="620" y="612" width="1" height="47" fill="#c0c0c0"/>
<rect x="628" y="612" width="1" height="44" fill="#c0c0c0"/>
<rect x="636" y="612" width="1" height="41" fill="#c0c0c0"/>
<rect x="644" y="612" width="1" height="40" fill="#c0c0c0"/>
<rect x="652" y="612" width="1" height="36" fill="#c0c0c0"/>
<rect x="660" y="612" width="1" height="32" fill="#c0c0c0"/>
<rect x="668" y="612" width="1" height="32" fill="#c0c0c0"/>
<rect x="676" y="612" width="1" height="28" fill="#c0c0c0"/>
<rect x="684" y="612" width="1" height="23" fill="#c0c0c0"/>
<rect x="692" y="612" width="1" height="18" fill="#c0c0c0"/>
<rect x="700" y="612" width="1" height="21" fill="#c0c0c0"/>
<rect x="708" y="612" width="1" height="16" fill="#c0c0c0"/>
<rect x="716" y="612" width="1" height="17" fill="#c0c0c0"/>
<rect x="724" y="612" width="1" height="15" fill="#c0c0c0"/>
<rect x="732" y="612" width="1" height="17" fill="#c0c0c0"/>
<rect x="740" y="612" width="1" height="17" fill="#c0c0c0"/>
<rect x="748" y="612" width="1" height="18" fill="#c0c0c0"/>
<rect x="756" y="612" width="1" height="18" fill="#c0c0c0"/>
<rect x="764" y="612" width="1" height="24" fill="#c0c0c0"/>
<rect x="772" y="612" width="1" height="30" fill="#c0c0c0"/>
<rect x="780" y="612" width="1" height="32" fill="#c0c0c0"/>
<rect x="788" y="612" width="1" height="34" fill="#c0c0c0"/>
<rect x="796" y="612" width="1" height="39" fill="#c0c0c0"/>
<rect x="804" y="612" width="1" height="40" fill="#c0c0c0"/>
<rect x="812" y="612" width="1" height="36" fill="#c0c0c0"/>
<rect x="820" y="612" width="1" height="34" fill="#c0c0c0"/>
<rect x="828" y="612" width="1" height="30" fill="#c0c0c0"/>
<rect x="836" y="612" width="1" height="26" fill="#c0c0c0"/>
<rect x="844" y="612" width="1" height="24" fill="#c0c0c0"/>
<rect x="852" y="612" width="1" height="22" fill="#c0c0c0"/>
<rect x="860" y="612" width="1" height="20" fill="#c0c0c0"/>
<rect x="868" y="612" width="1" height="16" fill="#c0c0c0"/>
<rect x="876" y="612" width="1" height="8" fill="#c0c0c0"/>
<rect x="884" y="612" width="1" height="5" fill="#c0c0c0"/>
<rect x="892" y="612" width="1" height="2" fill="#c0c0c0"/>
<rect x="908" y="606" width="1" height="7" fill="#c0c0c0"/>
<rect x="916" y="597" width="1" height="16" fill="#c0c0c0"/>
<rect x="924" y="588" width="1" height="25" fill="#c0c0c0"/>
<rect x="932" y="581" width="1" height="32" fill="#c0c0c0"/>
<rect x="940" y="576" width="1" height="37" fill="#c0c0c0"/>
<rect x="948" y="575" width="1" height="38" fill="#c0c0c0"/>
<rect x="956" y="574" width="1" height="39" fill="#c0c0c0"/>
<rect x="964" y="576" width="1" height="37" fill="#c0c0c0"/>
<rect x="972" y="580" width="1" height="33" fill="#c0c0c0"/>
<rect x="980" y="584" width="1" height="29" fill="#c0c0c0"/>
<rect x="988" y="585" width="1" height="28" fill="#c0c0c0"/>
<rect x="996" y="586" width="1" height="27" fill="#c0c0c0"/>
<rect x="1004" y="583" width="1" height="30" fill="#c0c0c0"/>
<rect x="1012" y="580" width="1" height="33" fill="#c0c0c0"/>
<rect x="1020" y="579" width="1" height="34" fill="#c0c0c0"/>
<rect x="1028" y="578" width="1" height="35" fill="#c0c0c0"/>
<rect x="1036" y="580" width="1" height="33" fill="#c0c0c0"/>
<rect x="1044" y="587" width="1" height="26" fill="#c0c0c0"/>
<rect x="1052" y="593" width="1" height="20" fill="#c0c0c0"/>
<rect x="1060" y="600" width="1" height="13" fill="#c0c0c0"/>
<rect x="1068" y="607" width="1" height="6" fill="#c0c0c0"/>
<rect x="1084" y="612" width="1" height="4" fill="#c0c0c0"/>
<rect x="1092" y="612" width="1" height="9" fill="#c0c0c0"/>
<rect x="1100" y="612" width="1" height="13" fill="#c0c0c0"/>
<rect x="1108" y="612" width="1" height="15" fill="#c0c0c0"/>
<rect x="1116" y="612" width="1" height="16" fill="#c0c0c0"/>
</g>
<g clip-path="url(#cmacd)" shape-rendering="crispEdges">
<polyline points="4.5,619.5 12.5,616.3 20.5,612.2 28.5,605.8 36.5,601.7 44.5,597.9 52.5,592.4 60.5,589.4 68.5,587.6 76.5,587.2 84.5,588.5 92.5,589.6 100.5,592.1 108.5,593.5 116.5,594.0 124.5,593.1 132.5,592.4 140.5,590.3 148.5,585.8 156.5,582.1 164.5,578.0 172.5,576.2 180.5,575.3 188.5,577.0 196.5,578.3 204.5,580.7 212.5,583.5 220.5,586.6 228.5,591.0 236.5,595.8 244.5,600.3 252.5,604.7 260.5,608.5 268.5,612.2 276.5,615.0 284.5,617.7 292.5,620.4 300.5,621.1 308.5,622.5 316.5,623.2 324.5,624.5 332.5,626.3 340.5,629.3 348.5,632.8 356.5,635.9 364.5,638.2 372.5,640.6 380.5,643.3 388.5,647.8 396.5,650.6 404.5,651.9 412.5,652.3 420.5,651.5 428.5,649.2 436.5,646.0 444.5,644.1 452.5,641.0 460.5,634.8 468.5,631.4 476.5,627.7 484.5,625.2 492.5,624.5 500.5,624.5 508.5,625.2 516.5,627.7 524.5,629.6 532.5,632.4 540.5,634.5 548.5,635.9 556.5,637.3 564.5,637.3 572.5,638.4 580.5,638.6 588.5,639.6 596.5,640.6 604.5,642.3 612.5,644.4 620.5,647.8 628.5,650.1 636.5,652.3 644.5,653.7 652.5,654.3 660.5,654.3 668.5,653.3 676.5,651.5 684.5,648.5 692.5,645.5 700.5,641.9 708.5,639.2 716.5,636.9 724.5,634.1 732.5,633.2 740.5,631.4 748.5,630.4 756.5,630.4 764.5,630.5 772.5,632.4 780.5,633.4 788.5,634.5 796.5,637.6 804.5,641.7 812.5,642.8 820.5,644.1 828.5,646.0 836.5,646.0 844.5,645.5 852.5,644.1 860.5,641.4 868.5,639.6 876.5,636.5 884.5,634.1 892.5,629.3 900.5,626.3 908.5,622.5 916.5,617.7 924.5,612.9 932.5,608.1 940.5,600.9 948.5,597.2 956.5,592.5 964.5,586.6 972.5,583.1 980.5,581.4 988.5,579.4 996.5,579.4 1004.5,579.4 1012.5,580.3 1020.5,580.3 1028.5,580.3 1036.5,581.4 1044.5,582.5 1052.5,583.5 1060.5,584.4 1068.5,587.2 1076.5,589.6 1084.5,594.8 1092.5,599.0 1100.5,604.7 1108.5,609.9 1116.5,613.2" fill="none" stroke="#ff0000" stroke-width="1" stroke-dasharray="3,3"/>
</g>
<g shape-rendering="crispEdges">
<rect x="1420" y="565" width="1" height="1" fill="#000"/>
<rect x="1420" y="612" width="1" height="1" fill="#000"/>
<rect x="1420" y="666" width="1" height="1" fill="#000"/>
</g>
<text x="1423" y="574" fill="#000" font-size="9.5" textLength="38" lengthAdjust="spacingAndGlyphs" stroke="#000" stroke-width="0.2">0.004536</text>
<text x="1423" y="616" fill="#000" font-size="9.5" textLength="17" lengthAdjust="spacingAndGlyphs" stroke="#000" stroke-width="0.2">0.00</text>
<text x="1423" y="664" fill="#000" font-size="9.5" textLength="41" lengthAdjust="spacingAndGlyphs" stroke="#000" stroke-width="0.2">-0.005205</text>
<text x="8" y="576" fill="#000" font-size="9.5" textLength="153" lengthAdjust="spacingAndGlyphs" stroke="#000" stroke-width="0.2">MACD(12,26,9) -0.001523 -0.000196</text>
<g shape-rendering="crispEdges">
<line x1="4" y1="709.5" x2="1419" y2="709.5" stroke="#c0c0c0" stroke-width="1" stroke-dasharray="3,3" stroke-dashoffset="-1"/>
<line x1="4" y1="760.5" x2="1419" y2="760.5" stroke="#c0c0c0" stroke-width="1" stroke-dasharray="3,3" stroke-dashoffset="-1"/>
<rect x="1420" y="671" width="1" height="1" fill="#000"/>
<rect x="1420" y="798" width="1" height="1" fill="#000"/>
</g>
<g clip-path="url(#crsi)" shape-rendering="crispEdges">
<polyline points="4.5,718.7 12.5,710.3 20.5,715.3 28.5,715.3 36.5,714.4 44.5,722.9 52.5,726.7 60.5,740.4 68.5,739.3 76.5,737.2 84.5,742.3 92.5,733.8 100.5,724.9 108.5,715.3 116.5,713.3 124.5,712.2 132.5,719.0 140.5,718.5 148.5,718.5 156.5,717.4 164.5,722.2 172.5,737.2 180.5,736.5 188.5,736.5 196.5,737.4 204.5,748.2 212.5,747.2 220.5,749.1 228.5,750.2 236.5,738.2 244.5,739.6 252.5,735.2 260.5,735.2 268.5,737.2 276.5,747.2 284.5,743.4 292.5,735.2 300.5,743.4 308.5,743.4 316.5,746.1 324.5,754.3 332.5,755.4 340.5,754.3 348.5,757.4 356.5,756.4 364.5,752.3 372.5,748.2 380.5,761.5 388.5,757.6 396.5,750.2 404.5,750.2 412.5,725.6 420.5,731.3 428.5,731.3 436.5,735.2 444.5,731.3 452.5,731.3 460.5,729.4 468.5,737.6 476.5,744.1 484.5,748.2 492.5,750.2 500.5,750.2 508.5,752.3 516.5,748.6 524.5,749.1 532.5,750.2 540.5,735.4 548.5,736.5 556.5,744.5 564.5,746.1 572.5,746.4 580.5,750.9 588.5,761.9 596.5,758.2 604.5,761.2 612.5,759.5 620.5,744.5 628.5,744.5 636.5,745.4 644.5,747.5 652.5,740.7 660.5,740.7 668.5,746.1 676.5,737.9 684.5,734.5 692.5,731.3 700.5,746.1 708.5,733.5 716.5,740.4 724.5,737.6 732.5,742.3 740.5,741.3 748.5,745.0 756.5,741.3 764.5,749.1 772.5,753.0 780.5,749.1 788.5,749.1 796.5,754.1 804.5,746.4 812.5,742.7 820.5,739.6 828.5,737.2 836.5,737.2 844.5,740.4 852.5,742.3 860.5,736.5 868.5,731.8 876.5,725.3 884.5,728.3 892.5,729.4 900.5,727.2 908.5,720.8 916.5,712.2 924.5,708.5 932.5,710.5 940.5,711.9 948.5,717.4 956.5,717.4 964.5,724.2 972.5,730.4 980.5,729.4 988.5,725.9 996.5,724.2 1004.5,716.3 1012.5,716.3 1020.5,714.4 1028.5,714.4 1036.5,726.3 1044.5,739.3 1052.5,740.4 1060.5,743.4 1068.5,749.1 1076.5,749.1 1084.5,745.4 1092.5,750.2 1100.5,750.2 1108.5,747.5 1116.5,746.1" fill="none" stroke="#1e90ff" stroke-width="1"/>
</g>
<text x="1423" y="680" fill="#000" font-size="9.5" textLength="15" lengthAdjust="spacingAndGlyphs" stroke="#000" stroke-width="0.2">100</text>
<text x="1422.3" y="713" fill="#000" font-size="9.5" textLength="10" lengthAdjust="spacingAndGlyphs" stroke="#000" stroke-width="0.2">70</text>
<text x="1422.3" y="764" fill="#000" font-size="9.5" textLength="10" lengthAdjust="spacingAndGlyphs" stroke="#000" stroke-width="0.2">30</text>
<text x="1423" y="796" fill="#000" font-size="9.5" textLength="5" lengthAdjust="spacingAndGlyphs" stroke="#000" stroke-width="0.2">0</text>
<text x="8" y="682" fill="#000" font-size="9.5" textLength="67.5" lengthAdjust="spacingAndGlyphs" stroke="#000" stroke-width="0.2">RSI(14) 41.1424</text>
<g shape-rendering="crispEdges">
<rect x="4" y="800" width="1" height="3" fill="#000"/>
<rect x="68" y="800" width="1" height="3" fill="#000"/>
<rect x="132" y="800" width="1" height="3" fill="#000"/>
<rect x="196" y="800" width="1" height="3" fill="#000"/>
<rect x="260" y="800" width="1" height="3" fill="#000"/>
<rect x="324" y="800" width="1" height="3" fill="#000"/>
<rect x="388" y="800" width="1" height="3" fill="#000"/>
<rect x="452" y="800" width="1" height="3" fill="#000"/>
<rect x="516" y="800" width="1" height="3" fill="#000"/>
<rect x="580" y="800" width="1" height="3" fill="#000"/>
<rect x="644" y="800" width="1" height="3" fill="#000"/>
<rect x="708" y="800" width="1" height="3" fill="#000"/>
<rect x="772" y="800" width="1" height="3" fill="#000"/>
<rect x="836" y="800" width="1" height="3" fill="#000"/>
<rect x="900" y="800" width="1" height="3" fill="#000"/>
<rect x="964" y="800" width="1" height="3" fill="#000"/>
<rect x="1028" y="800" width="1" height="3" fill="#000"/>
<rect x="1092" y="800" width="1" height="3" fill="#000"/>
</g>
<text x="3" y="812" fill="#000" font-size="9.6" textLength="44.5" lengthAdjust="spacingAndGlyphs" stroke="#000" stroke-width="0.2">6 Jun 2019</text>
<text x="67" y="812" fill="#000" font-size="9.6" textLength="49.5" lengthAdjust="spacingAndGlyphs" stroke="#000" stroke-width="0.2">16 Jun 2019</text>
<text x="131" y="812" fill="#000" font-size="9.6" textLength="49.5" lengthAdjust="spacingAndGlyphs" stroke="#000" stroke-width="0.2">25 Jun 2019</text>
<text x="195" y="812" fill="#000" font-size="9.6" textLength="41.5" lengthAdjust="spacingAndGlyphs" stroke="#000" stroke-width="0.2">4 Jul 2019</text>
<text x="259" y="812" fill="#000" font-size="9.6" textLength="46.5" lengthAdjust="spacingAndGlyphs" stroke="#000" stroke-width="0.2">14 Jul 2019</text>
<text x="323" y="812" fill="#000" font-size="9.6" textLength="46.5" lengthAdjust="spacingAndGlyphs" stroke="#000" stroke-width="0.2">23 Jul 2019</text>
<text x="387" y="812" fill="#000" font-size="9.6" textLength="47.3" lengthAdjust="spacingAndGlyphs" stroke="#000" stroke-width="0.2">1 Aug 2019</text>
<text x="451" y="812" fill="#000" font-size="9.6" textLength="52.2" lengthAdjust="spacingAndGlyphs" stroke="#000" stroke-width="0.2">11 Aug 2019</text>
<text x="515" y="812" fill="#000" font-size="9.6" textLength="52.2" lengthAdjust="spacingAndGlyphs" stroke="#000" stroke-width="0.2">20 Aug 2019</text>
<text x="579" y="812" fill="#000" font-size="9.6" textLength="52.2" lengthAdjust="spacingAndGlyphs" stroke="#000" stroke-width="0.2">29 Aug 2019</text>
<text x="643" y="812" fill="#000" font-size="9.6" textLength="46.8" lengthAdjust="spacingAndGlyphs" stroke="#000" stroke-width="0.2">8 Sep 2019</text>
<text x="707" y="812" fill="#000" font-size="9.6" textLength="51.3" lengthAdjust="spacingAndGlyphs" stroke="#000" stroke-width="0.2">17 Sep 2019</text>
<text x="771" y="812" fill="#000" font-size="9.6" textLength="52" lengthAdjust="spacingAndGlyphs" stroke="#000" stroke-width="0.2">26 Sep 2019</text>
<text x="835" y="812" fill="#000" font-size="9.6" textLength="45.4" lengthAdjust="spacingAndGlyphs" stroke="#000" stroke-width="0.2">6 Oct 2019</text>
<text x="899" y="812" fill="#000" font-size="9.6" textLength="50.3" lengthAdjust="spacingAndGlyphs" stroke="#000" stroke-width="0.2">15 Oct 2019</text>
<text x="963" y="812" fill="#000" font-size="9.6" textLength="50" lengthAdjust="spacingAndGlyphs" stroke="#000" stroke-width="0.2">24 Oct 2019</text>
<text x="1027" y="812" fill="#000" font-size="9.6" textLength="49.1" lengthAdjust="spacingAndGlyphs" stroke="#000" stroke-width="0.2">3 Nov 2019</text>
<text x="1091" y="812" fill="#000" font-size="9.6" textLength="53.6" lengthAdjust="spacingAndGlyphs" stroke="#000" stroke-width="0.2">12 Nov 2019</text>
<polygon points="7,32 14,32 10.5,28" fill="#000"/>
<text x="19.3" y="33" fill="#000" font-size="9.5" textLength="66.5" lengthAdjust="spacingAndGlyphs" stroke="#000" stroke-width="0.2">EURUSD-,Daily</text>
<text x="92.4" y="33" fill="#000" font-size="9.5" textLength="140.5" lengthAdjust="spacingAndGlyphs" stroke="#000" stroke-width="0.2">1.10190 1.10262 1.10187 1.10225</text>
<g shape-rendering="crispEdges">
<rect x="5" y="39" width="223" height="68" fill="#ffffff"/>
<rect x="7" y="65" width="109" height="40" fill="#0000a0"/>
<rect x="8" y="66" width="107" height="38" fill="url(#gPrice)"/>
<rect x="118" y="65" width="108" height="40" fill="#0000a0"/>
<rect x="119" y="66" width="106" height="38" fill="url(#gPrice)"/>
<rect x="7" y="41" width="52" height="25" fill="#0000a0"/>
<rect x="8" y="42" width="50" height="24" fill="url(#gSell)"/>
<rect x="11" y="64" width="44" height="1" fill="#000080"/>
<rect x="11" y="65" width="44" height="1" fill="#7474ff"/>
<rect x="174" y="41" width="52" height="25" fill="#0000a0"/>
<rect x="175" y="42" width="50" height="24" fill="url(#gSell)"/>
<rect x="178" y="64" width="44" height="1" fill="#000080"/>
<rect x="178" y="65" width="44" height="1" fill="#7474ff"/>
<rect x="59" y="41" width="115" height="24" fill="#ffffff"/>
<rect x="61" y="41" width="111" height="22" fill="#a6a9ad"/>
<rect x="62" y="42" width="109" height="20" fill="#ffffff"/>
<rect x="62" y="42" width="20" height="20" fill="#ffffff"/>
<rect x="63" y="43" width="18" height="18" fill="url(#gBtn)"/>
<rect x="82" y="42" width="1" height="20" fill="#a6a9ad"/>
<rect x="150" y="42" width="1" height="20" fill="#a6a9ad"/>
<rect x="151" y="42" width="20" height="20" fill="#ffffff"/>
<rect x="152" y="43" width="18" height="18" fill="url(#gBtn)"/>
</g>
<polygon points="69,50 74.5,50 71.75,53" fill="#5468c4"/>
<polygon points="158,53 163.5,53 160.75,50" fill="#5468c4"/>
<text x="19.5" y="57" fill="#fff" font-size="12.5" textLength="25.5" lengthAdjust="spacingAndGlyphs">SELL</text>
<text x="187.8" y="57" fill="#fff" font-size="12.5" textLength="23.2" lengthAdjust="spacingAndGlyphs">BUY</text>
<text x="123.8" y="56" fill="#000" font-size="12" textLength="22.7" lengthAdjust="spacingAndGlyphs">1.00</text>
<text x="27.6" y="96" fill="#fff" font-size="12.5" font-weight="bold" textLength="23.6" lengthAdjust="spacingAndGlyphs">1.10</text>
<text x="55.6" y="96" fill="#fff" font-size="33.5" textLength="33" lengthAdjust="spacingAndGlyphs">22</text>
<text x="94.7" y="80" fill="#fff" font-size="12.5" font-weight="bold" textLength="6.3" lengthAdjust="spacingAndGlyphs">5</text>
<text x="137.6" y="96" fill="#fff" font-size="12.5" font-weight="bold" textLength="23.6" lengthAdjust="spacingAndGlyphs">1.10</text>
<text x="166.5" y="96" fill="#fff" font-size="33.5" textLength="33.4" lengthAdjust="spacingAndGlyphs">24</text>
<text x="205.6" y="80" fill="#fff" font-size="12.5" font-weight="bold" textLength="5.8" lengthAdjust="spacingAndGlyphs">2</text>
<text x="6.7" y="9" fill="#444" font-size="9.6" textLength="12.3" lengthAdjust="spacingAndGlyphs">H4</text>
<text x="35.8" y="9" fill="#444" font-size="9.6" textLength="11.2" lengthAdjust="spacingAndGlyphs">D1</text>
<text x="63.2" y="9" fill="#444" font-size="9.6" textLength="13.9" lengthAdjust="spacingAndGlyphs">W1</text>
<text x="89.6" y="9" fill="#444" font-size="9.6" textLength="14.6" lengthAdjust="spacingAndGlyphs">MN</text>
<g shape-rendering="crispEdges">
<rect x="1" y="820" width="1460" height="1" fill="#e3e3e3"/>
<rect x="0" y="822" width="1461" height="1" fill="#000"/>
<rect x="0" y="824" width="1461" height="18" fill="#f0f0f0"/>
<rect x="0" y="823" width="1" height="18" fill="#696969"/>
<rect x="1" y="823" width="1" height="18" fill="#ffffff"/>
<rect x="5" y="822" width="108" height="19" fill="#000"/>
<rect x="6" y="822" width="106" height="18" fill="#ffffff"/>
<rect x="221" y="826" width="1" height="12" fill="#6a6a6a"/>
<rect x="329" y="826" width="1" height="12" fill="#6a6a6a"/>
<rect x="437" y="826" width="1" height="12" fill="#6a6a6a"/>
<rect x="549" y="826" width="1" height="12" fill="#6a6a6a"/>
<rect x="669" y="826" width="1" height="12" fill="#6a6a6a"/>
<rect x="793" y="826" width="1" height="12" fill="#6a6a6a"/>
<rect x="889" y="826" width="1" height="12" fill="#6a6a6a"/>
<rect x="969" y="826" width="1" height="12" fill="#6a6a6a"/>
<rect x="1073" y="826" width="1" height="12" fill="#6a6a6a"/>
<rect x="1165" y="826" width="1" height="12" fill="#6a6a6a"/>
<rect x="1257" y="826" width="1" height="12" fill="#6a6a6a"/>
</g>
<text x="16.6" y="837" fill="#000" font-size="12.3" textLength="84" lengthAdjust="spacingAndGlyphs">EURUSD-,Daily</text>
<text x="123.4" y="837" fill="#666" font-size="12.3" textLength="86.5" lengthAdjust="spacingAndGlyphs">AUDUSD-,Daily</text>
<text x="233.4" y="837" fill="#666" font-size="12.3" textLength="83.5" lengthAdjust="spacingAndGlyphs">USDCHF-,Daily</text>
<text x="340.7" y="837" fill="#666" font-size="12.3" textLength="85.2" lengthAdjust="spacingAndGlyphs">USDCAD-,Daily</text>
<text x="449.7" y="837" fill="#666" font-size="12.3" textLength="87.3" lengthAdjust="spacingAndGlyphs">USDCNH-,Daily</text>
<text x="560.4" y="837" fill="#666" font-size="12.3" textLength="96.3" lengthAdjust="spacingAndGlyphs">EURCHF-,Weekly</text>
<text x="681.4" y="837" fill="#666" font-size="12.3" textLength="99.2" lengthAdjust="spacingAndGlyphs">XAUUSD-,Weekly</text>
<text x="804.6" y="837" fill="#666" font-size="12.3" textLength="71.9" lengthAdjust="spacingAndGlyphs">GBPUSD-,H1</text>
<text x="900.5" y="837" fill="#666" font-size="12.3" textLength="55.5" lengthAdjust="spacingAndGlyphs">UKOil-,H1</text>
<text x="979.6" y="837" fill="#666" font-size="12.3" textLength="82.1" lengthAdjust="spacingAndGlyphs">USDX-,Weekly</text>
<text x="1083.3" y="837" fill="#666" font-size="12.3" textLength="70.1" lengthAdjust="spacingAndGlyphs">EURCHF-,H1</text>
<text x="1177.5" y="837" fill="#666" font-size="12.3" textLength="67.5" lengthAdjust="spacingAndGlyphs">USOil-,Daily</text>
<polygon points="1438,828 1438,835 1434.5,831.5" fill="#808080"/>
<polygon points="1454,828 1454,835 1457.5,831.5" fill="#808080"/>
</svg></body></html>
